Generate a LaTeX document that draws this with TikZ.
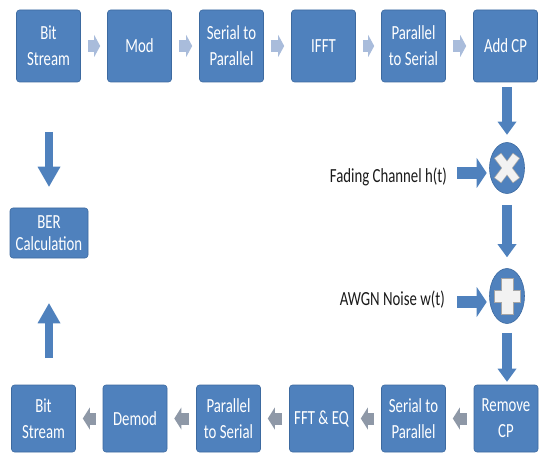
\documentclass[tikz,border=0pt]{standalone}
\usepackage{fontspec}
\setmainfont{Carlito}[FakeStretch=0.74]
\usetikzlibrary{arrows.meta,shapes.geometric,calc}
\definecolor{boxblue}{HTML}{4F81BD}
\definecolor{boxedge}{HTML}{3D6AA0}
\definecolor{chevtopc}{HTML}{A9BCDB}
\definecolor{chevbotc}{HTML}{8E98A7}
\definecolor{symw}{HTML}{F2F2F2}
\definecolor{symedge}{HTML}{A6A6A6}
\definecolor{labelc}{HTML}{1A1A1A}
\begin{document}
\begin{tikzpicture}[x=1pt,y=-1pt,
  blk/.style={draw=boxedge, line width=0.6pt, fill=boxblue, text=white,
    rounded corners=3pt, minimum width=64pt, inner sep=0pt, align=center,
    font=\fontsize{20}{26}\selectfont},
  toprow/.style={blk, minimum height=72pt},
  botrow/.style={blk, minimum height=67pt},
  berbox/.style={blk, minimum width=78pt, minimum height=50pt, font=\fontsize{20}{22}\selectfont},
  mixer/.style={ellipse, draw=boxedge, line width=0.6pt, fill=boxblue, minimum width=35pt, inner sep=0pt},
  sidelabel/.style={text=labelc, inner sep=0pt, anchor=east, font=\fontsize{20}{24}\selectfont},
  chevtop/.style={chevtopc, line width=12pt, -{Triangle[width=22pt,length=6pt,line width=0pt]}, shorten <=7pt, shorten >=7pt},
  chevbot/.style={chevbotc, line width=12pt, -{Triangle[width=22pt,length=7pt,line width=0pt]}, shorten <=7pt, shorten >=7pt},
  bigdown/.style={boxblue, line width=10pt, -{Triangle[width=19pt,length=13pt,line width=0pt]}},
  sidearrow/.style={boxblue, line width=12pt, -{Triangle[width=30pt,length=10pt,line width=0pt]}},
  leftarrow/.style={boxblue, line width=8pt, -{Triangle[width=23pt,length=20pt,line width=0pt]}}
]
\useasboundingbox (0,0) rectangle (540,454);

% top row
\node[toprow] (t1) at (48.5,46) {Bit\\Stream};
\node[toprow] (t2) at (139.5,46) {Mod};
\node[toprow] (t3) at (231.5,46) {Serial to\\Parallel};
\node[toprow] (t4) at (323.5,46) {IFFT};
\node[toprow] (t5) at (413.5,46) {Parallel\\to Serial};
\node[toprow] (t6) at (505.5,46) {Add CP};

% bottom row
\node[botrow] (b1) at (43.5,418.5) {Bit\\Stream};
\node[botrow] (b2) at (135,418.5) {Demod};
\node[botrow] (b3) at (228.5,418.5) {Parallel\\to Serial};
\node[botrow] (b4) at (321.5,418.5) {FFT \& EQ};
\node[botrow] (b5) at (413.5,418.5) {Serial to\\Parallel};
\node[botrow] (b6) at (506,418.5) {Remove\\CP};

% BER
\node[berbox] (ber) at (49,233) {BER\\Calculation};
\coordinate (berin) at (49,132);
\coordinate (berin2) at (49,358);

% channel
\node[mixer, minimum height=51pt] (mul) at (507,168) {};
\node[mixer, minimum height=55pt] (plus) at (507,296) {};
\node[sidelabel] (fad) at (447,177) {Fading Channel h(t)};
\node[sidelabel] (awgn) at (445,300) {AWGN Noise w(t)};

% symbols
\begin{scope}[shift={(mul.center)}]
  \draw[symedge, line width=9pt] (-9.5,-12.5) -- (9.5,12.5) (9.5,-12.5) -- (-9.5,12.5);
  \draw[symw, line width=7.6pt] (-9,-12) -- (9,12) (9,-12) -- (-9,12);
\end{scope}
\begin{scope}[shift={(plus.center)}]
  \draw[symedge, fill=symw, line width=0.6pt]
    (-6,-18) -- (6,-18) -- (6,-6) -- (13,-6) -- (13,6) -- (6,6) -- (6,18)
    -- (-6,18) -- (-6,6) -- (-13,6) -- (-13,-6) -- (-6,-6) -- cycle;
\end{scope}

% top chevrons
\draw[chevtop] (t1.east) -- (t2.west);
\draw[chevtop] (t2.east) -- (t3.west);
\draw[chevtop] (t3.east) -- (t4.west);
\draw[chevtop] (t4.east) -- (t5.west);
\draw[chevtop] (t5.east) -- (t6.west);

% bottom chevrons
\draw[chevbot] (b6.west) -- (b5.east);
\draw[chevbot] (b5.west) -- (b4.east);
\draw[chevbot] (b4.west) -- (b3.east);
\draw[chevbot] (b3.west) -- (b2.east);
\draw[chevbot] (b2.west) -- (b1.east);

% big vertical arrows
\draw[bigdown, shorten <=5pt, shorten >=7.5pt] (t6.south -| mul.center) -- (mul.north);
\draw[bigdown, shorten <=11pt, shorten >=11pt] (mul.south) -- (plus.north);
\draw[bigdown, shorten <=9pt, shorten >=3pt] (plus.south) -- (plus.south |- b6.north);

% side arrows
\draw[sidearrow, shorten >=2.5pt] ([xshift=10pt,yshift=4pt]fad.east) -- ([yshift=4pt]fad.east -| mul.west);
\draw[sidearrow, shorten >=2.5pt] ([xshift=12pt,yshift=-2pt]awgn.east) -- ([yshift=-2pt]awgn.east -| plus.west);

% left arrows
\draw[leftarrow, shorten >=21pt] (berin) -- (ber.north);
\draw[leftarrow, shorten >=45pt] (berin2) -- (ber.south);
\end{tikzpicture}
\end{document}
